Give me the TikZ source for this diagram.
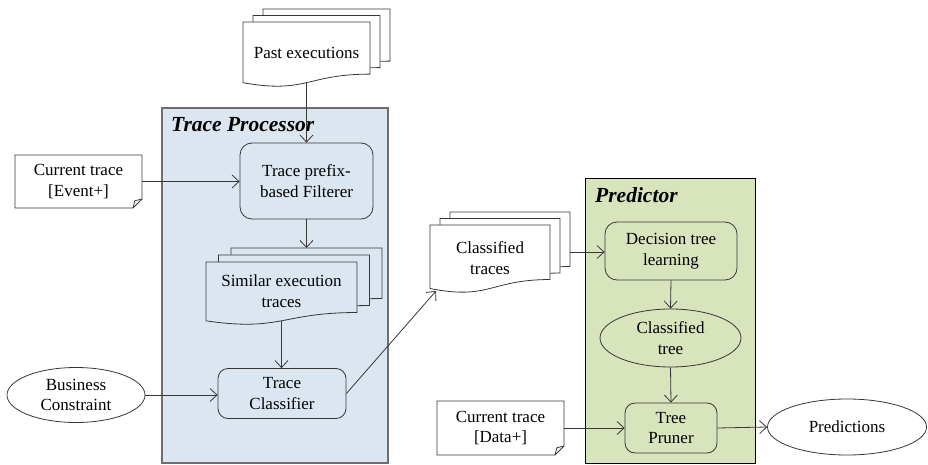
\documentclass[tikz,border=0pt]{standalone}
\usepackage{fontspec}
\setmainfont{Liberation Serif}
\usetikzlibrary{positioning, arrows.meta, shapes.geometric}
\definecolor{ProcessorFill}{RGB}{220,230,241}
\definecolor{PredictorFill}{RGB}{215,228,188}
\definecolor{FrameGray}{RGB}{110,110,110}
\definecolor{LineGray}{RGB}{55,55,55}

% page with a wavy lower edge: options, x, y (top left), width, height
\newcommand{\docpage}[5]{%
  \filldraw[#1] (#2,#3) -- ({#2+#4},#3) -- ({#2+#4},{#3+0.802*#5})
    .. controls ({#2+0.5*#4},{#3+0.802*#5}) and ({#2+0.5*#4},{#3+1.108*#5}) .. (#2,{#3+0.934*#5}) -- cycle;}
% note with a folded lower right corner: x, y (top left), width, height
\newcommand{\notepage}[4]{%
  \filldraw[fill=white, draw=LineGray, line width=0.8pt] (#1,#2) -- ({#1+#3},#2) -- ({#1+#3},{#2+#4-9})
    -- ({#1+#3-9},{#2+#4}) -- (#1,{#2+#4}) -- cycle;
  \draw[LineGray, line width=0.8pt] ({#1+#3-9},{#2+#4}) -- ({#1+#3-7.2},{#2+#4-7.2}) -- ({#1+#3},{#2+#4-9});}

\begin{document}
\begin{tikzpicture}[x=1pt,y=-1pt,
    txt/.style={font=\fontsize{17}{20.5}\selectfont, align=center, inner sep=0pt},
    heading/.style={font=\fontsize{21.5}{25}\selectfont\bfseries\itshape, anchor=west, inner sep=0pt},
    frame/.style={draw, inner sep=0pt},
    block/.style={txt, draw=LineGray, line width=0.8pt, rounded corners=12pt},
    oval/.style={txt, ellipse, draw=LineGray, line width=0.8pt},
    arr/.style={-{Straight Barb[length=7pt,width=13pt]}, LineGray, line width=0.8pt},
    page/.style={draw=LineGray, line width=0.8pt}]
  \useasboundingbox (0,0) rectangle (928,465);

  % group frames
  \node[frame, draw=FrameGray, line width=1.5pt, fill=ProcessorFill, minimum width=226pt, minimum height=355pt] (proc) at (275,285.5) {};
  \node[frame, draw=black, line width=0.8pt, fill=PredictorFill, minimum width=170pt, minimum height=285pt] (pred) at (670,320.5) {};
  \node[heading] (proctitle) at (171,125) {Trace Processor};
  \node[heading] (predtitle) at (595,195) {Predictor};

  % page stacks
  \foreach \d in {2,1,0}
  {
    \pgfmathsetmacro\px{243+10*\d}
    \pgfmathsetmacro\py{22-6.5*\d}
    \docpage{page, fill=white}{\px}{\py}{127}{65}
    \pgfmathsetmacro\px{206+12.5*\d}
    \pgfmathsetmacro\py{262-7*\d}
    \docpage{page, fill=ProcessorFill}{\px}{\py}{151}{63}
    \pgfmathsetmacro\px{430+10*\d}
    \pgfmathsetmacro\py{225-6.5*\d}
    \docpage{page, fill=white}{\px}{\py}{120}{68}
  }
  \node[txt] (past) at (306.5,53) {Past executions};
  \node[txt] (similar) at (281.5,291) {Similar execution\\traces};
  \node[txt] (classtr) at (490,258) {Classified\\traces};
  \coordinate (pastbot) at (306.5,82.6);
  \coordinate (simtop) at (306.5,248);
  \coordinate (simbot) at (281.5,320.8);
  \coordinate (classin) at (436,291);
  \coordinate (classout) at (570,252);

  % notes
  \notepage{15}{155}{127}{53}
  \notepage{437}{401}{127}{54}
  \node[txt, minimum width=127pt, minimum height=53pt] (curevent) at (78.5,181.5) {Current trace\\{[}Event+{]}};
  \node[txt, minimum width=127pt, minimum height=54pt] (curdata) at (500.5,428) {Current trace\\{[}Data+{]}};

  % processing steps
  \node[block, fill=ProcessorFill, minimum width=133pt, minimum height=76pt] (filter) at (306.5,181) {Trace prefix-\\based Filterer};
  \node[block, fill=ProcessorFill, minimum width=128pt, minimum height=50pt, rounded corners=10pt] (classifier) at (282,393.5) {Trace\\Classifier};
  \node[oval, fill=white, minimum width=138pt, minimum height=55pt] (business) at (76,395) {Business\\Constraint};
  \node[block, fill=PredictorFill, minimum width=132pt, minimum height=58pt] (learning) at (671,251) {Decision tree\\learning};
  \node[oval, fill=PredictorFill, minimum width=141pt, minimum height=58pt] (tree) at (670.5,338) {Classified\\tree};
  \node[block, fill=PredictorFill, minimum width=92pt, minimum height=50pt, rounded corners=10pt] (pruner) at (671,428) {Tree\\Pruner};
  \node[oval, fill=white, minimum width=159pt, minimum height=56pt] (predictions) at (847,427) {Predictions};

  % connectors
  \draw[arr] (pastbot) -- (filter.north);
  \draw[arr] (curevent.east) -- (curevent.east -| filter.west);
  \draw[arr] (filter.south) -- (simtop);
  \draw[arr] (simbot) -- (simbot |- classifier.north);
  \draw[arr] (business.east) -- (business.east -| classifier.west);
  \draw[arr] (classifier.east) -- (classin);
  \draw[arr] (classout) -- (classout -| learning.west);
  \draw[arr] (learning.south) -- (tree.north);
  \draw[arr] (tree.south) -- (pruner.north);
  \draw[arr] (curdata.east) -- (pruner.west);
  \draw[arr] (pruner.east) -- (predictions.west);
\end{tikzpicture}
\end{document}
